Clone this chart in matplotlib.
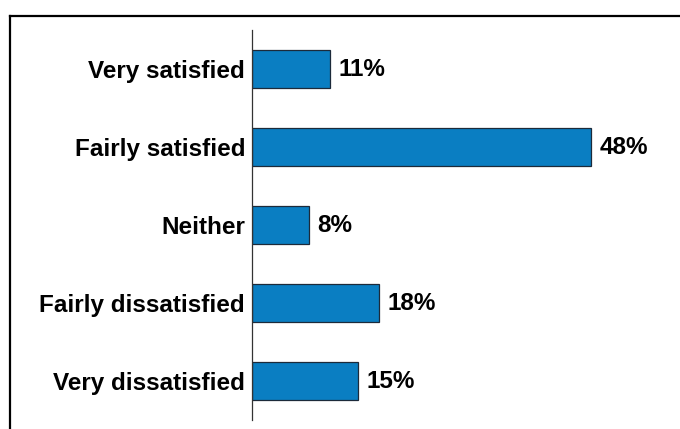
import matplotlib
matplotlib.use("Agg")
import matplotlib.pyplot as plt
from matplotlib.lines import Line2D

categories = ["Very satisfied", "Fairly satisfied", "Neither", "Fairly dissatisfied", "Very dissatisfied"]
values = [11, 48, 8, 18, 15]
value_labels = ["11%", "48%", "8%", "18%", "15%"]

plt.rcParams['font.family'] = ['Liberation Sans', 'DejaVu Sans']

W, H = 680, 429
fig = plt.figure(figsize=(W / 100, H / 100), dpi=100)
ax = fig.add_axes([252 / W, 1 - 420 / H, 424 / W, 390 / H])

ypos = list(range(len(categories)))
ax.barh(ypos, values, height=0.49, color="#0A7EC2", edgecolor="#1c2a3a", linewidth=0.9)
ax.set_ylim(len(categories) - 0.5, -0.5)
ax.set_xlim(0, 60)
ax.set_yticks(ypos)
ax.set_yticklabels(categories, fontsize=17.5, fontweight="bold", color="black")
ax.tick_params(axis="y", length=0, pad=5)
ax.set_xticks([])
for s in ["top", "right", "bottom"]:
    ax.spines[s].set_visible(False)
ax.spines["left"].set_color("#333333")
ax.spines["left"].set_linewidth(0.9)

for y, v, lab in zip(ypos, values, value_labels):
    ax.annotate(lab, (v, y), xytext=(6, 0), textcoords="offset points",
                va="center", ha="left", fontsize=17.5, fontweight="bold", color="black")

# outer frame (cropped box)
fig.add_artist(Line2D([10 / W, 1.0], [1 - 16 / H, 1 - 16 / H], color="black", linewidth=1.6,
                      transform=fig.transFigure))
fig.add_artist(Line2D([10 / W, 10 / W], [1 - 16 / H, 0.0], color="black", linewidth=1.6,
                      transform=fig.transFigure))

fig.savefig("out.png", dpi=100)
